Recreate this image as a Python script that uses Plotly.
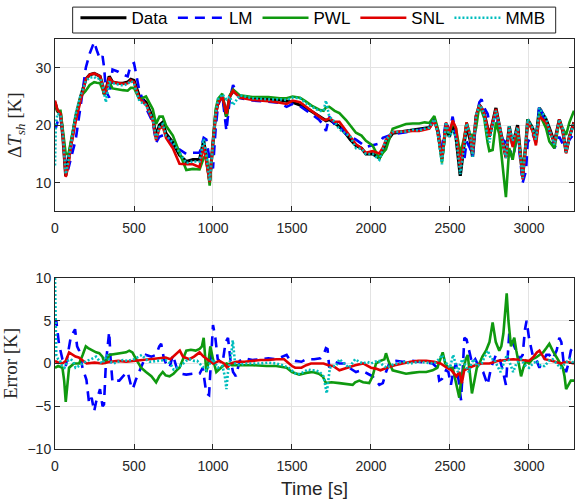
import plotly.graph_objects as go

# ---------------- top panel: superheat [K] ----------------
t_top = [0, 5, 15, 35, 50, 68, 85, 100, 131, 163, 195, 220, 248, 265, 285, 301, 311, 322, 343, 364,
         400, 430, 460, 480, 500, 534, 576, 619, 640, 661, 682, 703, 746, 788, 831, 873, 915, 941, 958, 979,
         1000, 1017, 1032, 1059, 1085, 1106, 1127, 1169, 1250, 1350, 1424, 1466, 1504, 1551, 1589, 1630, 1673, 1700, 1715, 1736,
         1770, 1800, 1842, 1870, 1905, 1940, 1968, 2010, 2053, 2075, 2095, 2137, 2180, 2222, 2264, 2306, 2340, 2369, 2401, 2422,
         2449, 2475, 2496, 2517, 2538, 2565, 2591, 2605, 2627, 2643, 2665, 2686, 2700, 2717, 2738, 2749, 2770, 2791, 2812, 2833,
         2854, 2875, 2897, 2928, 2960, 2981, 2992, 3023, 3044, 3066, 3108, 3129, 3161, 3192, 3214, 3235, 3256, 3285]

data_top = [24.0, 23.5, 22.5, 22.0, 18.0, 11.2, 14.0, 17.0, 21.5, 25.0, 28.0, 28.8, 29.0, 28.8, 28.5, 27.0, 25.4, 26.0, 28.5, 27.5,
            27.3, 27.3, 27.5, 28.0, 27.8, 25.0, 24.0, 21.3, 18.0, 20.0, 20.5, 18.5, 17.0, 14.8, 13.7, 14.0, 14.0, 17.3, 14.0, 10.3,
            17.0, 22.0, 24.0, 25.2, 21.5, 25.0, 26.0, 25.0, 24.7, 24.6, 24.4, 24.2, 24.0, 23.5, 23.0, 22.3, 21.5, 21.0, 20.8, 21.0,
            20.3, 19.8, 18.5, 17.5, 16.5, 16.0, 15.0, 15.0, 14.3, 15.5, 17.0, 18.6, 18.8, 19.0, 19.2, 19.3, 19.5, 19.6, 21.0, 19.0,
            14.2, 20.0, 18.0, 20.0, 18.0, 11.2, 17.0, 20.0, 17.5, 14.5, 21.5, 23.5, 23.0, 22.0, 19.5, 18.0, 20.5, 23.0, 20.0, 17.0,
            14.5, 19.8, 16.5, 20.0, 11.0, 17.0, 21.0, 19.5, 17.5, 23.0, 21.0, 19.5, 17.0, 21.0, 19.0, 15.3, 18.0, 20.5]

lm_top = [20.0, 19.5, 20.5, 21.5, 19.0, 12.5, 12.5, 14.0, 17.5, 23.5, 30.0, 32.5, 34.5, 33.0, 31.5, 32.0, 30.0, 26.0, 24.8, 29.7,
          29.3, 28.8, 28.5, 30.5, 30.8, 26.0, 23.0, 20.5, 17.0, 18.0, 18.3, 18.5, 16.0, 15.8, 15.0, 15.2, 15.2, 17.8, 17.5, 14.0,
          12.5, 19.5, 23.5, 25.2, 19.0, 24.5, 27.0, 24.7, 24.3, 24.0, 23.9, 23.2, 23.7, 23.3, 22.5, 21.8, 20.9, 20.0, 19.0, 21.5,
          20.1, 19.8, 18.5, 18.1, 17.5, 16.8, 16.2, 16.5, 16.8, 17.8, 18.0, 18.4, 18.6, 18.8, 18.9, 19.1, 19.3, 19.5, 21.0, 19.5,
          16.2, 20.8, 19.0, 21.5, 18.0, 15.0, 14.0, 17.2, 16.0, 14.5, 21.0, 24.0, 24.5, 23.0, 22.0, 20.5, 20.5, 22.0, 19.2, 17.5,
          17.0, 16.3, 14.0, 18.5, 10.0, 12.0, 17.0, 18.5, 17.0, 23.5, 20.0, 18.5, 16.0, 18.0, 16.7, 16.3, 17.5, 18.5]

pwl_top = [24.0, 23.5, 22.5, 22.5, 19.0, 15.0, 15.0, 17.3, 21.5, 25.0, 26.0, 27.0, 27.5, 27.4, 27.3, 26.2, 25.4, 26.0, 27.5, 26.4,
           26.2, 26.1, 26.0, 26.5, 26.5, 24.5, 25.0, 22.8, 20.2, 21.5, 21.5, 19.9, 18.2, 15.3, 12.2, 12.4, 12.3, 14.3, 15.0, 9.5,
           16.5, 22.8, 24.6, 25.5, 21.5, 25.2, 26.2, 25.2, 24.9, 24.9, 24.7, 24.7, 25.0, 24.8, 24.1, 23.3, 22.7, 22.5, 23.1, 23.2,
           22.5, 22.1, 20.9, 19.9, 18.7, 18.2, 17.3, 16.5, 14.2, 15.2, 15.8, 19.4, 19.8, 20.2, 20.3, 20.3, 20.5, 20.4, 21.6, 19.5,
           13.5, 20.0, 18.5, 20.5, 19.5, 15.0, 18.0, 20.5, 18.5, 18.0, 19.5, 23.5, 22.5, 21.2, 17.0, 15.5, 15.7, 20.5, 18.5, 13.5,
           7.5, 16.0, 14.0, 19.0, 11.8, 16.7, 21.0, 19.0, 17.0, 22.0, 19.5, 17.2, 16.0, 20.7, 19.5, 18.3, 20.5, 22.5]

snl_top = [24.3, 23.8, 22.7, 22.0, 18.2, 11.0, 13.0, 16.2, 20.7, 24.4, 28.0, 28.8, 29.0, 28.8, 28.5, 27.0, 25.5, 26.0, 28.3, 27.5,
           27.3, 27.2, 27.3, 27.8, 27.5, 24.6, 23.6, 20.8, 17.4, 19.4, 19.8, 17.8, 16.0, 13.3, 13.2, 13.2, 12.7, 16.5, 13.5, 10.1,
           17.0, 21.8, 23.8, 25.0, 22.0, 25.0, 26.0, 24.8, 24.4, 24.2, 23.9, 23.7, 24.3, 24.0, 23.2, 22.3, 21.5, 21.0, 20.9, 21.2,
           20.6, 20.6, 19.0, 18.0, 16.7, 16.0, 15.2, 15.5, 15.1, 16.1, 17.5, 18.8, 18.9, 19.0, 19.0, 19.0, 19.2, 19.4, 20.8, 19.0,
           14.2, 20.5, 18.8, 20.8, 19.5, 12.5, 17.8, 20.5, 18.0, 15.0, 21.7, 23.5, 23.0, 22.0, 19.5, 18.0, 20.5, 22.8, 20.0, 16.8,
           14.3, 19.5, 16.2, 19.7, 10.6, 16.7, 20.7, 19.0, 16.5, 21.5, 20.5, 19.2, 16.8, 21.0, 19.0, 15.1, 18.0, 20.5]

mmb_top = [13.0, 20.0, 22.0, 21.8, 18.3, 11.5, 13.8, 16.5, 22.0, 25.3, 27.7, 28.3, 28.4, 28.0, 28.2, 27.0, 25.2, 24.0, 27.5, 27.3,
           27.1, 26.9, 27.2, 27.7, 27.3, 24.2, 23.5, 21.1, 17.7, 19.7, 20.2, 18.2, 17.0, 15.2, 13.4, 13.7, 13.7, 17.6, 14.8, 10.3,
           16.5, 22.0, 24.5, 25.4, 24.5, 25.0, 23.5, 25.2, 24.7, 24.5, 24.5, 24.4, 24.8, 24.7, 23.8, 23.1, 22.5, 22.5, 24.3, 21.5,
           20.6, 19.3, 18.6, 18.0, 16.0, 15.9, 15.0, 15.0, 14.0, 15.7, 17.5, 18.8, 18.8, 18.9, 19.2, 19.1, 19.4, 19.6, 21.0, 18.7,
           13.2, 20.5, 18.0, 19.0, 18.0, 11.5, 16.5, 20.3, 18.5, 14.5, 21.8, 23.5, 23.0, 21.7, 18.0, 17.0, 20.0, 22.5, 20.2, 17.5,
           14.3, 19.8, 17.3, 19.6, 10.8, 17.2, 21.0, 19.5, 17.5, 23.0, 21.2, 19.2, 16.6, 21.0, 19.4, 15.3, 17.8, 20.5]

# ---------------- bottom panel: error [K] ----------------
t_lm = [0, 8, 25, 47, 68, 85, 100, 127, 140, 153, 174, 199, 216, 232, 248, 260, 269, 285, 301, 310, 322, 343, 352, 364,
        385, 407, 430, 460, 480, 492, 510, 534, 555, 576, 610, 640, 660, 672, 690, 703, 725, 746, 770, 800, 831, 870, 915,
        935, 958, 975, 990, 1000, 1015, 1030, 1060, 1080, 1095, 1110, 1127, 1145, 1169, 1200, 1250, 1300, 1350, 1400, 1440,
        1466, 1483, 1520, 1560, 1589, 1640, 1680, 1700, 1715, 1725, 1736, 1770, 1800, 1842, 1870, 1905, 1940, 1980, 2010,
        2053, 2075, 2095, 2120, 2158, 2200, 2264, 2300, 2350, 2390, 2420, 2432, 2450, 2475, 2490, 2506, 2520, 2538, 2555,
        2570, 2580, 2591, 2605, 2622, 2640, 2660, 2686, 2710, 2738, 2760, 2791, 2810, 2830, 2854, 2865, 2875, 2890, 2918,
        2940, 2960, 2975, 2985, 3000, 3023, 3045, 3066, 3090, 3110, 3129, 3150, 3175, 3192, 3205, 3220, 3235, 3250, 3265, 3285]
e_lm = [4.5, 5.0, 2.3, 0.5, -0.3, 1.5, 3.1, 4.0, 2.0, 1.5, -0.5, -1.9, -4.7, -4.0, -5.6, -4.5, -3.9, -3.0, -5.0, -4.8, 0.0, 3.7, 0.5, -2.2,
        -2.0, -2.0, -1.5, -1.0, -2.5, -3.0, -2.0, -1.0, 0.0, 1.0, 0.8, 1.0, 2.0, 2.3, 0.5, 0.0, -0.5, 1.0, -0.5, -1.2, -1.3, -1.2, -1.2,
        -0.5, -3.5, -3.7, 2.0, 4.5, 3.0, 0.5, 0.0, 2.5, 3.0, 0.5, -1.0, -1.5, 0.3, 0.6, 0.4, 0.5, 0.6, 0.5, 0.8,
        1.0, 0.5, 0.3, 0.2, 0.5, 0.5, 0.6, 1.0, 1.8, 1.7, -0.5, 0.2, 0.0, 0.0, -0.6, -1.0, -0.8, -1.2, -1.5,
        -2.5, -2.3, -1.0, 0.2, 0.3, 0.2, 0.3, 0.2, 0.1, 0.0, -0.5, -2.0, -1.8, -0.8, -1.0, -2.5, -1.0, 0.0, -2.0,
        -4.3, -1.0, 3.0, 2.8, 1.5, 0.0, 0.5, -0.5, -1.0, -2.5, -0.5, 1.0, 0.8, -0.5, -2.5, 1.0, 3.5, 2.8, 1.5,
        0.5, 1.0, 4.0, 5.0, 3.0, 1.0, 0.5, -0.5, 0.3, 1.0, 1.0, 0.5, 1.5, 3.0, 2.5, 0.0, -1.0, 0.0, 1.5, 2.0]

t_pwl = [0, 20, 47, 58, 68, 75, 89, 120, 153, 175, 195, 210, 237, 260, 280, 300, 315, 330, 343, 375, 420, 450, 470, 490,
         513, 545, 576, 610, 640, 660, 682, 700, 725, 750, 770, 788, 810, 831, 860, 890, 915, 930, 941, 950, 958, 970, 983,
         1000, 1021, 1050, 1085, 1120, 1169, 1250, 1339, 1400, 1466, 1500, 1530, 1546, 1590, 1631, 1670, 1694, 1715, 1750,
         1800, 1840, 1884, 1900, 1926, 1950, 1989, 2010, 2032, 2060, 2085, 2095, 2110, 2137, 2180, 2222, 2260, 2306, 2350,
         2390, 2420, 2440, 2454, 2470, 2490, 2517, 2530, 2545, 2559, 2570, 2580, 2600, 2612, 2625, 2639, 2655, 2670, 2686,
         2705, 2728, 2750, 2770, 2790, 2812, 2825, 2838, 2850, 2859, 2870, 2886, 2897, 2907, 2920, 2935, 2950, 2965, 2981,
         3000, 3023, 3045, 3066, 3090, 3110, 3129, 3150, 3171, 3190, 3214, 3225, 3235, 3250, 3265, 3285]
e_pwl = [-0.5, -0.3, -0.5, -2.0, -4.5, -3.0, -0.5, 0.0, 0.0, 1.0, 2.0, 1.8, 1.5, 1.3, 1.2, 0.8, 0.0, 0.4, 1.0, 1.1, 1.2, 1.3, 1.5, 1.3,
         0.5, -0.5, -1.0, -1.5, -2.2, -1.5, -1.0, -1.4, -1.5, -1.2, -0.8, -0.5, 0.5, 1.5, 1.6, 1.5, 1.7, 2.0, 3.0, 1.0, -1.0, 0.0, 2.0,
         0.5, -1.0, -0.5, 0.0, -0.2, -0.2, -0.2, -0.3, -0.3, -0.5, -1.0, -1.2, -1.3, -1.1, -1.0, -1.2, -1.5, -2.3, -2.2,
         -2.3, -2.4, -2.5, -2.2, -2.0, -2.2, -2.3, -1.5, 0.0, 0.3, 0.5, 1.2, 0.3, -0.8, -1.0, -1.2, -1.1, -1.0, -1.0,
         -0.8, -0.5, 0.5, 1.3, 0.0, -0.5, -0.5, -1.5, -3.0, -4.0, -2.0, -1.0, 0.5, 1.0, -1.0, -3.5, -2.0, -0.5, 0.0,
         0.8, 1.5, 2.5, 4.8, 2.5, 1.5, 2.0, 3.5, 6.0, 8.2, 5.0, 2.0, 2.5, 3.0, 1.5, 0.0, -1.5, -0.5, 0.3,
         0.0, 0.5, 0.7, 1.0, 1.3, 1.8, 2.3, 1.5, 0.8, 0.3, -0.5, -1.5, -3.0, -2.5, -2.0, -2.0]

t_snl = [0, 20, 47, 68, 89, 110, 130, 150, 175, 200, 250, 300, 350, 400, 450, 500, 550, 600, 650, 700, 730, 760, 790,
         810, 850, 880, 915, 940, 960, 985, 1000, 1040, 1070, 1090, 1110, 1150, 1200, 1250, 1300, 1350, 1400, 1450, 1480,
         1500, 1520, 1560, 1590, 1620, 1660, 1700, 1730, 1760, 1800, 1830, 1850, 1900, 1950, 1980, 2000, 2030, 2060, 2100,
         2150, 2200, 2250, 2300, 2350, 2400, 2440, 2480, 2510, 2540, 2560, 2575, 2590, 2620, 2660, 2700, 2750, 2800, 2850,
         2900, 2950, 3000, 3030, 3050, 3066, 3085, 3100, 3150, 3200, 3240, 3285]
e_snl = [0.3, 0.1, 0.0, 0.3, 1.3, 1.0, 0.8, 0.7, 0.3, 0.0, 0.1, 0.0, 0.2, 0.3, 0.2, 0.3, 0.4, 0.5, 0.6, 0.7, 0.5, 1.0, 1.5,
         0.8, 0.5, 0.8, 1.3, 0.8, 0.5, 0.2, 0.0, 0.3, 0.0, -0.5, 0.0, 0.2, 0.2, 0.3, 0.4, 0.4, 0.5, 0.5, 0.0,
         -0.3, -0.5, -0.5, -0.2, 0.0, 0.0, 0.0, -0.2, -0.3, -0.8, -0.6, -0.5, -0.2, 0.0, -0.3, -0.5, -0.6, -0.8, -0.5,
         -0.2, 0.0, 0.2, 0.3, 0.3, 0.2, 0.0, -0.5, -0.8, -1.5, -1.0, -2.3, -0.8, -0.5, -0.2, 0.0, 0.0, 0.3, 0.4,
         0.5, 0.4, 0.3, 0.8, 1.3, 1.5, 1.0, 0.5, 0.3, 0.0, 0.2, 0.0]

t_mmb = [0, 3, 8, 20, 30, 45, 60, 80, 100, 115, 130, 150, 175, 200, 230, 260, 285, 300, 315, 330, 345, 370, 400, 430,
         460, 500, 530, 550, 575, 600, 650, 700, 730, 750, 780, 800, 830, 850, 880, 900, 930, 960, 980, 1000, 1015, 1030,
         1060, 1075, 1085, 1095, 1105, 1115, 1125, 1132, 1140, 1170, 1200, 1250, 1300, 1350, 1400, 1440, 1480, 1510, 1530,
         1550, 1575, 1600, 1625, 1650, 1675, 1700, 1712, 1720, 1730, 1740, 1760, 1780, 1800, 1830, 1860, 1880, 1900, 1925,
         1950, 1975, 2000, 2025, 2050, 2075, 2100, 2130, 2160, 2200, 2250, 2300, 2350, 2400, 2430, 2450, 2470, 2500, 2520,
         2535, 2550, 2565, 2580, 2600, 2620, 2635, 2650, 2670, 2700, 2720, 2740, 2760, 2780, 2800, 2820, 2840, 2860, 2880,
         2900, 2920, 2950, 2975, 3000, 3025, 3050, 3075, 3100, 3125, 3150, 3175, 3200, 3230, 3260, 3285]
e_mmb = [10.0, 5.0, 1.0, 0.5, 0.4, -0.3, -0.5, 0.3, 0.5, 0.2, -0.5, -0.3, 0.0, 0.3, 0.5, 0.8, 0.2, 0.0, 0.5, 1.0, 0.3, 0.0, 0.2, 0.4,
         0.3, 0.5, 0.8, 1.0, 0.5, 0.2, 0.3, 0.4, 0.0, -0.7, -0.4, -0.2, 0.3, 0.5, 0.3, 0.3, -0.3, -0.8, 0.0, 0.5, 0.0, -0.5,
         -0.3, -1.5, -3.0, -1.0, 0.0, 1.0, 2.7, 1.0, 0.0, -0.2, 0.0, 0.0, 0.0, 0.1, 0.0, -0.2, -0.5, -1.0, -1.3,
         -1.2, -1.0, -0.7, -0.8, -0.8, -1.0, -1.5, -2.5, -3.5, -2.0, -0.5, -0.3, -0.3, 0.5, 0.0, -0.5, 0.0, 0.5, 0.2,
         0.0, 0.2, 0.0, 0.2, 0.3, -0.2, -0.5, -0.2, 0.0, 0.2, 0.0, 0.2, 0.1, 0.0, 0.5, 1.0, 0.2, -0.5, 1.0,
         0.0, -1.0, 0.0, 0.5, -0.3, -1.0, 0.0, 0.5, -0.3, 0.0, 0.8, 1.5, 0.5, 0.5, -0.3, -1.0, 0.0, 1.0, 0.0,
         -1.0, 0.0, 0.5, -0.2, -0.5, 0.0, 0.3, -0.3, -0.3, 0.3, 0.5, 0.0, -0.5, 0.0, 0.5, 0.0]

names = ["Data", "LM", "PWL", "SNL", "MMB"]
colors = ["#000000", "#0000ff", "#0f990f", "#e00000", "#00bdbd"]
dashes = ["solid", "10px,7px", "solid", "solid", "2px,2px"]
widths = [3.2, 2.6, 2.6, 2.6, 2.6]

top_series = [data_top, lm_top, pwl_top, snl_top, mmb_top]
bottom_series = [None, (t_lm, e_lm), (t_pwl, e_pwl), (t_snl, e_snl), (t_mmb, e_mmb)]

fig = go.Figure()
for i, name in enumerate(names):
    fig.add_trace(go.Scatter(x=t_top, y=top_series[i], mode="lines", name=name,
                             line=dict(color=colors[i], width=widths[i], dash=dashes[i]),
                             xaxis="x", yaxis="y", showlegend=True))
for i, name in enumerate(names):
    if bottom_series[i] is None:
        continue
    tx, ey = bottom_series[i]
    fig.add_trace(go.Scatter(x=tx, y=ey, mode="lines", name=name,
                             line=dict(color=colors[i], width=widths[i], dash=dashes[i]),
                             xaxis="x2", yaxis="y2", showlegend=False))

axcol = "#262626"
tickfont = dict(family="Liberation Sans, Arial, sans-serif", size=14, color=axcol)
common = dict(showline=True, linecolor=axcol, linewidth=1, mirror="ticks", ticks="inside",
              ticklen=5, tickcolor=axcol, showgrid=True, gridcolor="#e3e3e3", gridwidth=1,
              zeroline=False, tickfont=tickfont)

xticks = [0, 500, 1000, 1500, 2000, 2500, 3000]
fig.update_layout(
    width=575, height=502,
    margin=dict(l=55, r=1, t=38, b=53),
    paper_bgcolor="white", plot_bgcolor="white",
    xaxis=dict(domain=[0, 1], anchor="y", range=[0, 3285], tickvals=xticks,
               ticklabelstandoff=4, **common),
    yaxis=dict(domain=[0.5794, 1], anchor="x", range=[5, 35], tickvals=[10, 20, 30],
               title=dict(text="Δ<i>T</i><sub><i>sh</i></sub> [K]",
                          font=dict(family="Liberation Serif, DejaVu Serif, serif", size=19, color=axcol),
                          standoff=8), **common),
    xaxis2=dict(domain=[0, 1], anchor="y2", range=[0, 3285], tickvals=xticks, ticklabelstandoff=4,
                title=dict(text="Time [s]", font=dict(family="Liberation Sans, Arial, sans-serif", size=19, color=axcol),
                           standoff=8), **common),
    yaxis2=dict(domain=[0, 0.4172], anchor="x2", range=[-10, 10], tickvals=[-10, -5, 0, 5, 10],
                title=dict(text="Error [K]",
                           font=dict(family="Liberation Serif, DejaVu Serif, serif", size=19, color=axcol),
                           standoff=8), **common),
    legend=dict(orientation="h", x=0.497, xanchor="center", y=1.092, yanchor="top",
                font=dict(family="Liberation Sans, Arial, sans-serif", size=17, color="#000000"),
                borderwidth=0, bgcolor="rgba(0,0,0,0)",
                itemwidth=46, tracegroupgap=0),
    shapes=[dict(type="rect", xref="paper", yref="paper",
                 x0=0.034, x1=0.9647, y0=1.0146, y1=1.0778,
                 line=dict(color=axcol, width=1), fillcolor="white", layer="above")],
    showlegend=True,
)

fig.write_html("out.html")
